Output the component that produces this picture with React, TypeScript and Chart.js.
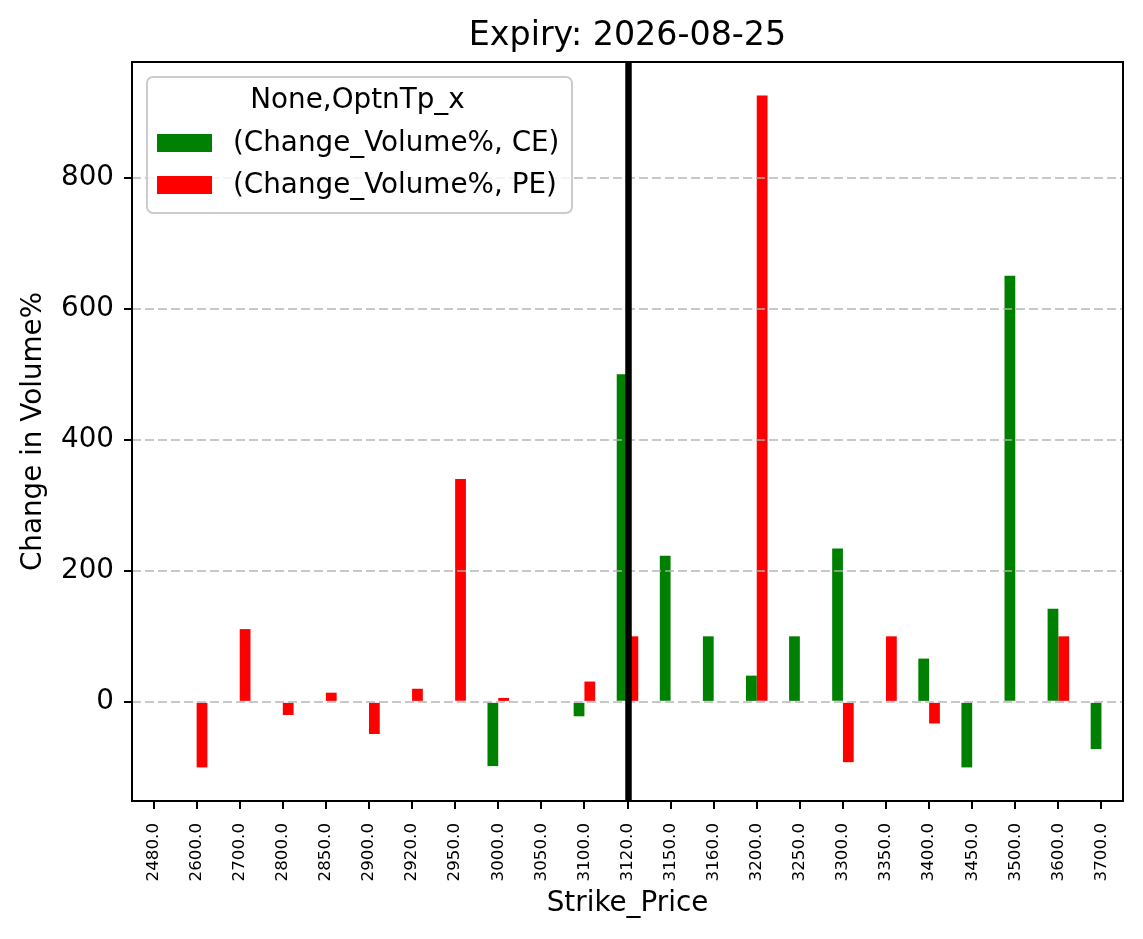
import React, { useEffect, useRef } from 'react';
import { Chart, registerables } from 'chart.js';

Chart.register(...registerables);

const TITLE = 'Expiry: 2026-08-25';
const X_TITLE = 'Strike_Price';
const Y_TITLE = 'Change in Volume%';
const LEGEND_TITLE = 'None,OptnTp_x';
const SPOT_STRIKE = '3120.0';

const STRIKES = [
  '2480.0', '2600.0', '2700.0', '2800.0', '2850.0', '2900.0', '2920.0', '2950.0',
  '3000.0', '3050.0', '3100.0', '3120.0', '3150.0', '3160.0', '3200.0', '3250.0',
  '3300.0', '3350.0', '3400.0', '3450.0', '3500.0', '3600.0', '3700.0',
];

const CE_LABEL = '(Change_Volume%, CE)';
const CE_VALUES: (number | null)[] = [
  null, null, null, null, null, null, null, null,
  -98, null, -22, 500, 223, 100, 40, 100,
  234, null, 66, -100, 650, 142, -72,
];

const PE_LABEL = '(Change_Volume%, PE)';
const PE_VALUES: (number | null)[] = [
  null, -100, 111, -20, 14, -49, 20, 340,
  6, null, 31, 100, null, null, 925, null,
  -92, 100, -33, null, null, 100, null,
];

const Y_TICKS = [0, 200, 400, 600, 800];
const Y_MIN = -151.25;
const Y_MAX = 976.25;

const FONT = "'DejaVu Sans', sans-serif";
const BASE = 27.8;

export default function App() {
  const ref = useRef<HTMLCanvasElement>(null);

  useEffect(() => {
    document.body.style.margin = '0';
    const canvas = ref.current;
    if (!canvas) return;

    const overlay = {
      id: 'overlay',
      afterDatasetsDraw(chart: any) {
        const { ctx, chartArea: ca, scales } = chart;
        ctx.save();
        // dashed grid above bars
        ctx.strokeStyle = 'rgba(176,176,176,0.7)';
        ctx.lineWidth = 2;
        ctx.setLineDash([9, 4]);
        for (const v of Y_TICKS) {
          const y = Math.round(scales.y.getPixelForValue(v));
          ctx.beginPath();
          ctx.moveTo(ca.left, y);
          ctx.lineTo(ca.right, y);
          ctx.stroke();
        }
        ctx.setLineDash([]);
        // spot line
        const sx = scales.x.getPixelForValue(STRIKES.indexOf(SPOT_STRIKE)) + 1;
        ctx.strokeStyle = '#000';
        ctx.lineWidth = 6.5;
        ctx.beginPath();
        ctx.moveTo(sx, ca.top);
        ctx.lineTo(sx, ca.bottom);
        ctx.stroke();
        // spines
        ctx.lineWidth = 2;
        ctx.strokeRect(ca.left, ca.top, ca.right - ca.left, ca.bottom - ca.top);
        ctx.restore();
      },
      afterDraw(chart: any) {
        const { ctx, chartArea: ca } = chart;
        ctx.save();
        // title
        ctx.fillStyle = '#000';
        ctx.font = `33.3px ${FONT}`;
        ctx.textAlign = 'center';
        ctx.textBaseline = 'alphabetic';
        ctx.fillText(TITLE, (ca.left + ca.right) / 2, 45);

        // legend
        const bx = ca.left + 15;
        const by = ca.top + 15;
        const bw = 425;
        const bh = 136;
        ctx.beginPath();
        (ctx as any).roundRect(bx, by, bw, bh, 6);
        ctx.fillStyle = 'rgba(255,255,255,0.8)';
        ctx.fill();
        ctx.strokeStyle = '#cccccc';
        ctx.lineWidth = 2;
        ctx.stroke();

        ctx.fillStyle = '#000';
        ctx.font = `${BASE}px ${FONT}`;
        ctx.textBaseline = 'middle';
        ctx.textAlign = 'center';
        ctx.fillText(LEGEND_TITLE, bx + bw / 2 - 2, by + 24);

        ctx.textAlign = 'left';
        const items = chart.data.datasets;
        items.forEach((ds: any, i: number) => {
          const cy = by + 66 + i * 42;
          ctx.fillStyle = ds.backgroundColor;
          ctx.fillRect(bx + 10, cy - 9, 55, 18);
          ctx.fillStyle = '#000';
          ctx.fillText(ds.label, bx + 86, cy + 1);
        });
        ctx.restore();
      },
    };

    const chart = new Chart(canvas, {
      type: 'bar',
      data: {
        labels: STRIKES,
        datasets: [
          {
            label: CE_LABEL,
            data: CE_VALUES,
            backgroundColor: '#008000',
            borderWidth: 0,
            categoryPercentage: 0.5,
            barPercentage: 1.0,
          },
          {
            label: PE_LABEL,
            data: PE_VALUES,
            backgroundColor: '#ff0000',
            borderWidth: 0,
            categoryPercentage: 0.5,
            barPercentage: 1.0,
          },
        ],
      },
      options: {
        responsive: false,
        animation: false,
        devicePixelRatio: 1,
        layout: { padding: { left: 0, right: 20, top: 62, bottom: 0 } },
        plugins: {
          legend: { display: false },
          tooltip: { enabled: false },
          title: { display: false },
        },
        scales: {
          x: {
            type: 'category',
            offset: true,
            grid: {
              display: true,
              drawOnChartArea: false,
              drawTicks: true,
              tickLength: 8,
              color: '#000',
              lineWidth: 2,
              offset: false,
            },
            border: { display: false },
            ticks: {
              autoSkip: false,
              maxRotation: 90,
              minRotation: 90,
              padding: 14,
              color: '#000',
              font: { family: FONT, size: 16.7 },
            },
            title: {
              display: true,
              text: X_TITLE,
              color: '#000',
              font: { family: FONT, size: BASE },
              padding: { top: 0, bottom: 19 },
            },
            afterFit: (s: any) => {
              s.height = 138;
            },
          },
          y: {
            type: 'linear',
            min: Y_MIN,
            max: Y_MAX,
            afterBuildTicks: (s: any) => {
              s.ticks = Y_TICKS.map((v) => ({ value: v }));
            },
            grid: {
              drawOnChartArea: false,
              drawTicks: true,
              tickLength: 8,
              color: '#000',
              lineWidth: 2,
            },
            border: { display: false },
            ticks: {
              padding: 10,
              color: '#000',
              font: { family: FONT, size: BASE },
            },
            title: {
              display: true,
              text: Y_TITLE,
              color: '#000',
              font: { family: FONT, size: BASE },
              padding: { top: 16.7, bottom: 0 },
            },
            afterFit: (s: any) => {
              s.width = 132;
            },
          },
        },
      },
      plugins: [overlay],
    } as any);

    return () => chart.destroy();
  }, []);

  return (
    <canvas
      ref={ref}
      width={1143}
      height={939}
      style={{ display: 'block', width: 1143, height: 939 }}
    />
  );
}
